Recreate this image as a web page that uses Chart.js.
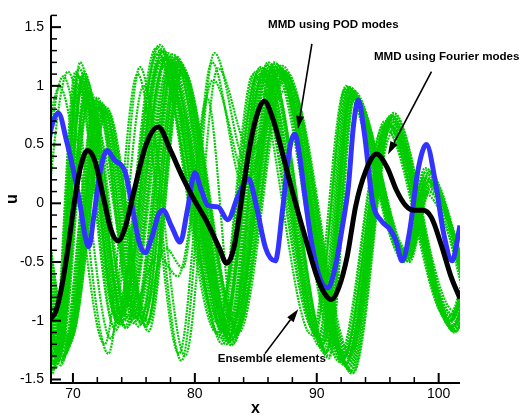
<!DOCTYPE html>
<html><head><meta charset="utf-8">
<script src="https://cdn.jsdelivr.net/npm/chart.js@4.4.1/dist/chart.umd.min.js"></script>
<style>html,body{margin:0;padding:0;background:#fff;}#wrap{width:521px;height:419px;}</style>
</head><body><div id="wrap"><canvas id="c" width="521" height="419"></canvas></div>
<script>
// ---- axis data ----
const xRange = [68.2, 101.75];
const yRange = [-1.53, 1.6];
const xMajorTicks = [70, 80, 90, 100];
const xMinorTicks = [72, 74, 76, 78, 82, 84, 86, 88, 92, 94, 96, 98];
const yMajorTicks = [-1.5, -1, -0.5, 0, 0.5, 1, 1.5];
const yMinorTicks = [-1.4,-1.3,-1.2,-1.1,-0.9,-0.8,-0.7,-0.6,-0.4,-0.3,-0.2,-0.1,0.1,0.2,0.3,0.4,0.6,0.7,0.8,0.9,1.1,1.2,1.3,1.4,1.6];
const xTitle = 'x';
const yTitle = 'u';

// ---- MMD using Fourier modes (black) ----
const fourierMMD = [[68.0,-1.0],[68.2,-0.98],[68.6,-0.92],[69.1,-0.7],[69.6,-0.38],[70.1,0.0],[70.6,0.3],[71.2,0.45],[71.8,0.36],[72.5,0.05],[73.1,-0.22],[73.7,-0.32],[74.3,-0.2],[75.0,0.1],[76.0,0.5],[77.0,0.65],[78.0,0.45],[79.0,0.22],[80.0,0.02],[81.0,-0.16],[82.0,-0.38],[82.6,-0.51],[83.2,-0.38],[84.0,0.15],[84.5,0.48],[85.0,0.72],[85.7,0.87],[86.4,0.72],[87.0,0.5],[88.0,0.1],[89.0,-0.27],[90.0,-0.62],[90.6,-0.76],[91.2,-0.82],[91.8,-0.72],[92.5,-0.45],[93.2,-0.02],[94.0,0.27],[94.9,0.42],[95.8,0.3],[96.5,0.12],[97.3,-0.02],[98.0,-0.06],[98.7,-0.06],[99.4,-0.12],[100.2,-0.35],[101.0,-0.62],[101.75,-0.81]];

// ---- MMD using POD modes (blue) ----
const podMMD = [[68.0,0.5],[68.2,0.63],[68.8,0.77],[69.5,0.52],[70.0,0.3],[70.6,-0.02],[71.0,-0.28],[71.3,-0.37],[71.7,-0.12],[72.2,0.25],[72.8,0.45],[73.4,0.37],[74.3,0.26],[74.9,-0.05],[75.4,-0.32],[75.9,-0.42],[76.5,-0.28],[77.0,-0.1],[77.4,-0.06],[78.1,-0.2],[78.8,-0.33],[79.4,-0.05],[80.0,0.26],[80.5,0.12],[81.1,-0.02],[81.9,-0.03],[82.7,-0.14],[83.5,0.05],[84.4,0.21],[85.0,0.0],[85.8,-0.38],[86.6,-0.49],[87.2,-0.05],[87.8,0.48],[88.2,0.59],[88.6,0.4],[89.0,0.08],[89.6,-0.35],[90.3,-0.65],[90.9,-0.72],[91.5,-0.55],[92.1,-0.2],[92.6,0.15],[93.0,0.65],[93.4,0.88],[93.9,0.6],[94.6,0.0],[95.3,-0.15],[96.0,-0.22],[96.5,-0.32],[97.0,-0.49],[97.6,-0.25],[98.3,0.28],[99.0,0.5],[99.7,0.2],[100.4,-0.25],[101.1,-0.49],[101.75,-0.19]];

// ---- Ensemble elements (green), read as extrema of each member ----
const ensembleGroupA = [
 [[65.8,0.9],[68.4,-1.42],[70.6,1.2],[73.6,-1.0],[77.1,1.35],[82.2,-1.15],[85.3,1.15],[90.2,-1.15],[92.6,0.98],[97.3,-0.45],[99.0,0.28],[103,-1.0]],
 [[65.7,0.8],[68.6,-1.38],[70.9,1.1],[73.9,-1.03],[77.4,1.3],[82.4,-1.1],[85.6,1.12],[90.5,-1.2],[92.8,0.95],[97.4,-0.42],[99.1,0.24],[103,-0.9]],
 [[66.0,0.7],[68.5,-1.3],[70.4,1.0],[74.4,-1.06],[77.8,1.28],[82.6,-1.2],[85.9,1.18],[90.8,-1.25],[93.0,0.9],[97.5,-0.48],[99.2,0.18],[103.2,-0.95]],
 [[66.3,1.0],[68.8,-1.35],[71.1,1.05],[74.1,-0.95],[77.0,1.2],[82.0,-1.0],[85.1,1.08],[89.9,-1.1],[92.4,1.0],[97.1,-0.4],[98.9,0.3],[102.8,-1.0]],
 [[66.0,0.6],[69.0,-1.25],[71.4,0.95],[74.6,-0.98],[78.0,1.15],[82.8,-1.15],[86.0,1.2],[91.0,-1.3],[93.1,0.92],[97.6,-0.5],[99.3,0.12],[103.3,-0.9]],
 [[65.5,1.0],[68.3,-1.45],[70.2,1.12],[73.4,-1.05],[76.8,1.32],[81.8,-1.1],[84.8,1.1],[89.6,-1.12],[92.3,0.97],[97.0,-0.43],[98.8,0.22],[102.7,-1.0]],
 [[66.4,0.9],[68.9,-1.2],[71.0,0.9],[74.2,-0.9],[77.6,1.25],[82.5,-0.95],[85.7,1.14],[90.6,-1.18],[92.9,0.94],[97.3,-0.46],[99.1,0.1],[103,-0.85]],
 [[65.9,0.5],[68.7,-1.33],[70.7,1.05],[73.8,-1.0],[77.3,1.28],[82.3,-1.2],[85.4,1.16],[90.3,-1.22],[92.7,0.99],[97.2,-0.44],[99.0,0.2],[103,-0.95]],
 [[66.1,0.85],[68.6,-1.4],[70.5,1.15],[73.7,-0.98],[77.2,1.22],[82.1,-0.85],[85.5,1.05],[90.4,-1.16],[92.8,0.93],[97.4,-0.47],[99.2,0.15],[103,-0.9]],
 [[66.2,0.75],[68.8,-1.3],[70.8,1.08],[74.0,-0.92],[77.5,1.18],[82.7,-1.05],[85.8,1.1],[90.7,-1.28],[93.0,0.96],[97.5,-0.41],[99.2,0.26],[103.1,-1.0]],
 [[65.8,0.95],[68.4,-1.36],[70.3,1.02],[73.5,-1.08],[76.9,1.27],[81.9,-1.02],[85.0,1.12],[89.8,-1.08],[92.5,0.96],[97.2,-0.5],[98.9,0.08],[102.9,-0.9]],
 [[66.5,0.7],[69.1,-1.22],[71.2,0.98],[74.5,-1.0],[77.9,1.2],[82.9,-1.12],[86.1,1.16],[91.0,-1.32],[93.1,0.9],[97.6,-0.45],[99.3,0.16],[103.2,-0.95]],
 [[65.9,0.8],[68.5,-1.35],[70.5,1.08],[73.7,-1.02],[77.2,1.3],[82.3,-1.08],[85.4,1.1],[90.3,-1.18],[92.7,0.97],[97.3,-0.45],[99.0,0.22],[103,-0.95]],
 [[66.2,0.7],[68.7,-1.28],[70.9,1.12],[74.2,-1.0],[77.6,1.22],[82.6,-1.12],[85.7,1.15],[90.6,-1.24],[92.9,0.92],[97.5,-0.44],[99.2,0.2],[103,-0.9]],
 [[65.6,0.9],[68.3,-1.4],[70.3,1.1],[73.5,-0.96],[77.0,1.33],[82.0,-1.12],[85.2,1.13],[90.1,-1.14],[92.5,0.99],[97.1,-0.46],[98.9,0.26],[102.8,-1.0]],
 [[66.3,0.6],[68.9,-1.3],[71.1,0.96],[74.3,-1.04],[77.7,1.26],[82.7,-1.18],[85.9,1.17],[90.9,-1.26],[93.0,0.93],[97.5,-0.49],[99.3,0.14],[103.2,-0.9]],
 [[66.0,0.85],[68.6,-1.32],[70.6,1.03],[73.9,-0.94],[77.4,1.24],[82.4,-1.0],[85.6,1.09],[90.5,-1.2],[92.8,0.96],[97.4,-0.43],[99.1,0.18],[103,-0.95]],
 [[66.4,0.75],[68.9,-1.26],[71.3,0.92],[74.5,-0.97],[77.9,1.17],[82.8,-1.1],[86.0,1.13],[90.8,-1.27],[93.1,0.91],[97.6,-0.47],[99.3,0.1],[103.2,-0.88]]
];
const ensembleGroupB = [
 [[66.3,0.8],[69.3,-1.3],[72.2,0.85],[75.3,-0.95],[78.5,1.25],[83.0,-1.21],[86.8,1.18],[92.3,-1.38],[95.9,0.72],[101.0,-1.05],[104,0.5]],
 [[66.6,0.7],[69.6,-1.22],[72.5,0.8],[75.8,-1.0],[78.8,1.2],[83.2,-1.15],[87.1,1.15],[92.6,-1.4],[96.1,0.75],[101.2,-1.08],[104,0.5]],
 [[66.0,0.9],[69.1,-1.35],[72.0,0.9],[75.0,-1.02],[78.2,1.27],[82.9,-1.18],[86.5,1.2],[91.9,-1.35],[95.6,0.7],[100.8,-1.0],[104,0.5]],
 [[66.8,0.6],[69.8,-1.15],[72.8,0.78],[76.2,-1.09],[79.0,1.15],[83.4,-1.1],[87.4,1.1],[92.9,-1.45],[96.3,0.77],[101.3,-1.1],[104,0.4]],
 [[66.4,0.85],[69.4,-1.28],[72.3,0.86],[75.6,-0.98],[78.6,1.22],[83.1,-1.2],[86.9,1.16],[92.4,-1.36],[96.0,0.74],[101.1,-1.06],[104,0.5]],
 [[66.2,0.75],[69.2,-1.32],[72.1,0.82],[75.4,-1.05],[78.4,1.24],[83.0,-1.17],[86.6,1.19],[92.1,-1.33],[95.8,0.7],[100.9,-1.02],[104,0.5]],
 [[66.5,0.65],[69.5,-1.25],[72.4,0.84],[75.9,-0.9],[78.7,1.18],[83.3,-0.95],[87.0,1.12],[92.5,-1.3],[96.0,0.66],[101.1,-0.98],[104,0.45]],
 [[66.7,0.8],[69.7,-1.18],[72.6,0.8],[76.0,-1.04],[78.9,1.1],[83.5,-1.05],[87.3,1.08],[92.8,-1.42],[96.2,0.72],[101.2,-1.04],[104,0.4]],
 [[66.1,0.9],[69.0,-1.38],[71.9,0.88],[75.1,-0.96],[78.3,1.2],[83.0,-1.08],[86.7,1.14],[92.2,-1.3],[95.7,0.62],[100.9,-0.96],[104,0.5]],
 [[66.6,0.7],[69.6,-1.2],[72.7,0.82],[76.1,-1.0],[78.8,1.16],[83.4,-1.12],[87.2,1.17],[92.7,-1.4],[96.1,0.7],[101.3,-1.09],[104,0.45]],
 [[66.4,0.75],[69.4,-1.27],[72.3,0.83],[75.5,-1.0],[78.6,1.2],[83.1,-1.14],[86.9,1.15],[92.4,-1.37],[96.0,0.71],[101.1,-1.05],[104,0.5]],
 [[66.2,0.85],[69.2,-1.3],[72.1,0.87],[75.2,-0.98],[78.3,1.23],[82.9,-1.12],[86.6,1.16],[92.1,-1.34],[95.7,0.68],[100.9,-1.0],[104,0.5]],
 [[66.7,0.65],[69.7,-1.2],[72.7,0.79],[76.0,-1.05],[78.9,1.14],[83.5,-1.08],[87.3,1.12],[92.8,-1.43],[96.2,0.74],[101.3,-1.07],[104,0.4]],
 [[66.5,0.8],[69.5,-1.24],[72.4,0.81],[75.7,-1.03],[78.7,1.19],[83.2,-1.18],[87.0,1.14],[92.5,-1.39],[96.0,0.73],[101.2,-1.06],[104,0.45]],
 [[66.0,0.95],[69.0,-1.34],[71.9,0.86],[75.0,-0.97],[78.1,1.21],[82.8,-1.15],[86.4,1.17],[91.8,-1.32],[95.5,0.66],[100.7,-0.98],[104,0.5]],
 [[66.8,0.7],[69.8,-1.16],[72.8,0.8],[76.2,-1.02],[79.0,1.13],[83.6,-1.1],[87.5,1.09],[93.0,-1.44],[96.3,0.75],[101.4,-1.09],[104,0.4]]
];
const ensembleGroupC = [
 [[66.6,-1.0],[69.2,1.08],[72.9,-1.28],[75.5,1.16],[78.9,-1.34],[81.6,1.28],[84.2,0.35],[87.5,1.12],[92.7,-1.3],[96.1,0.65],[101.2,-0.95],[104,0.5]],
 [[66.4,-0.9],[68.9,0.99],[72.6,-1.2],[75.3,1.1],[78.7,-1.28],[81.4,1.2],[84.0,0.15],[87.2,1.1],[92.5,-1.32],[95.9,0.68],[101.0,-1.0],[104,0.5]],
 [[66.9,-1.1],[69.6,1.12],[73.1,-1.15],[75.8,1.0],[79.2,-1.3],[81.9,1.15],[84.5,0.45],[87.8,1.0],[92.8,-1.28],[96.2,0.6],[101.3,-0.92],[104,0.4]]
];
const ensembleGroupD = [
 [[66.2,0.9],[68.6,-1.2],[70.8,1.0],[74.3,-1.06],[77.0,-0.45],[78.6,-0.62],[81.5,1.05],[84.3,0.2],[87.4,1.05],[92.6,-1.25],[96.0,0.62],[101.1,-0.95],[104,0.4]],
 [[66.0,1.0],[68.9,-1.1],[71.3,0.85],[75.6,-1.02],[77.6,-0.38],[79.0,-0.55],[81.0,0.9],[83.2,-1.0],[86.9,1.1],[92.3,-1.3],[95.8,0.66],[101.0,-1.0],[104,0.5]]
];

// ---- annotations (text, anchor in data units) ----
const notes = [
  {text: 'MMD using POD modes',     x: 86.0,  y: 1.496,  from: [89.6, 1.357],  to: [88.46, 0.634]},
  {text: 'MMD using Fourier modes', x: 94.69, y: 1.223,  from: [99.41, 1.122], to: [95.84, 0.416]},
  {text: 'Ensemble elements',       x: 81.87, y: -1.355, from: [85.75, -1.28], to: [88.48, -0.903]}
];

// ---- build chart ----
const toXY = arr => arr.map(p => ({x: p[0], y: p[1]}));
const GREEN = '#00CC00';
const members = [...ensembleGroupA, ...ensembleGroupB, ...ensembleGroupC, ...ensembleGroupD];
const datasets = [
  {data: toXY(fourierMMD), borderColor: '#000000', borderWidth: 5, order: 0},
  {data: toXY(podMMD), borderColor: '#3333FF', borderWidth: 5, order: 1},
  ...members.map(m => ({data: toXY(m), borderColor: GREEN, borderWidth: 2.2, borderDash: [2, 1], order: 2}))
].map(d => Object.assign({showLine: true, pointRadius: 0, clip: 0, cubicInterpolationMode: 'monotone', fill: false}, d));

const FONT = "'Liberation Sans', Arial, sans-serif";

const framePlugin = {
  id: 'frame',
  afterDatasetsDraw(chart) {
    const ctx = chart.ctx, a = chart.chartArea;
    const xs = chart.scales.x, ys = chart.scales.y;
    ctx.save();
    ctx.strokeStyle = '#000';
    ctx.lineCap = 'butt';
    ctx.lineWidth = 2;
    ctx.beginPath();
    ctx.moveTo(a.left, a.top); ctx.lineTo(a.left, a.bottom); ctx.lineTo(a.right, a.bottom);
    ctx.stroke();
    yMajorTicks.forEach(v => { const p = ys.getPixelForValue(v); ctx.lineWidth = 2; ctx.beginPath(); ctx.moveTo(a.left, p); ctx.lineTo(a.left + 10, p); ctx.stroke(); });
    yMinorTicks.forEach(v => { const p = ys.getPixelForValue(v); ctx.lineWidth = 1.5; ctx.beginPath(); ctx.moveTo(a.left, p); ctx.lineTo(a.left + 6, p); ctx.stroke(); });
    xMajorTicks.forEach(v => { const p = xs.getPixelForValue(v); ctx.lineWidth = 2; ctx.beginPath(); ctx.moveTo(p, a.bottom); ctx.lineTo(p, a.bottom - 10); ctx.stroke(); });
    xMinorTicks.forEach(v => { const p = xs.getPixelForValue(v); ctx.lineWidth = 1.5; ctx.beginPath(); ctx.moveTo(p, a.bottom); ctx.lineTo(p, a.bottom - 6); ctx.stroke(); });
    ctx.fillStyle = '#000';
    ctx.font = "bold 16px " + FONT;
    ctx.textAlign = 'center';
    ctx.textBaseline = 'alphabetic';
    ctx.fillText(xTitle, (a.left + a.right) / 2, 413);
    ctx.save();
    ctx.translate(17, (a.top + a.bottom) / 2);
    ctx.rotate(-Math.PI / 2);
    ctx.fillText(yTitle, 0, 0);
    ctx.restore();
    ctx.font = "bold 11.6px " + FONT;
    ctx.textAlign = 'left';
    notes.forEach(n => {
      ctx.fillText(n.text, xs.getPixelForValue(n.x), ys.getPixelForValue(n.y));
      const x1 = xs.getPixelForValue(n.from[0]), y1 = ys.getPixelForValue(n.from[1]);
      const x2 = xs.getPixelForValue(n.to[0]), y2 = ys.getPixelForValue(n.to[1]);
      const ang = Math.atan2(y2 - y1, x2 - x1), hl = 13, hw = 4;
      const bx = x2 - hl * Math.cos(ang), by = y2 - hl * Math.sin(ang);
      ctx.lineWidth = 1.6;
      ctx.beginPath(); ctx.moveTo(x1, y1); ctx.lineTo(bx, by); ctx.stroke();
      ctx.beginPath();
      ctx.moveTo(x2, y2);
      ctx.lineTo(bx + hw * Math.sin(ang), by - hw * Math.cos(ang));
      ctx.lineTo(bx - hw * Math.sin(ang), by + hw * Math.cos(ang));
      ctx.closePath(); ctx.fill();
    });
    ctx.restore();
  }
};

new Chart(document.getElementById('c'), {
  type: 'scatter',
  data: {datasets},
  options: {
    responsive: false,
    animation: false,
    devicePixelRatio: 1,
    layout: {padding: {top: 10, right: 61, left: 0, bottom: 0}},
    plugins: {legend: {display: false}, tooltip: {enabled: false}},
    scales: {
      x: {
        type: 'linear', min: xRange[0], max: xRange[1],
        afterFit: s => { s.height = 36; },
        afterBuildTicks: s => { s.ticks = xMajorTicks.map(v => ({value: v})); },
        ticks: {font: {family: FONT, size: 14}, color: '#000', padding: 3, maxRotation: 0, autoSkip: false, callback: v => String(v)},
        grid: {display: false, drawTicks: false},
        border: {display: false}
      },
      y: {
        type: 'linear', min: yRange[0], max: yRange[1],
        afterFit: s => { s.width = 51; },
        afterBuildTicks: s => { s.ticks = yMajorTicks.map(v => ({value: v})); },
        ticks: {font: {family: FONT, size: 14}, color: '#000', padding: 7, autoSkip: false, callback: v => String(v)},
        grid: {display: false, drawTicks: false},
        border: {display: false}
      }
    }
  },
  plugins: [framePlugin]
});
</script>
</body></html>
